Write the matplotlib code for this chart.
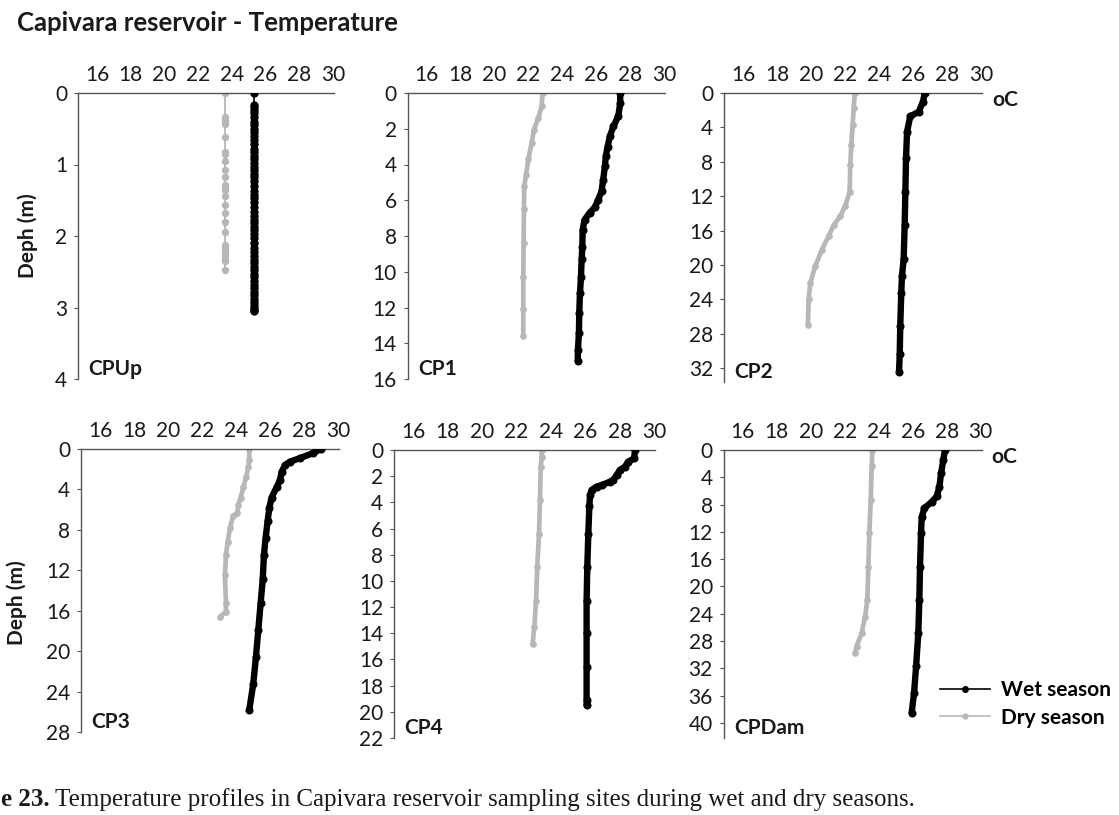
import matplotlib
matplotlib.use("Agg")
import matplotlib.pyplot as plt
from matplotlib.lines import Line2D

W, H = 1119, 815
INK = "#1a1a1a"
AXC = "#555555"
WET = "#000000"
DRY = "#b5b8b8"
FONT = ["Lato", "DejaVu Sans"]
plt.rcParams["font.family"] = FONT

TITLE = "Capivara reservoir - Temperature"
X_TICKS = [16, 18, 20, 22, 24, 26, 28, 30]

# ---- CPUp ----
CPUP_WET_D = [0, 0.17, 0.2, 0.24, 0.28, 0.33, 0.4, 0.45, 0.5, 0.55, 0.6, 0.66, 0.72, 0.78, 0.83,
              0.88, 0.93, 0.98, 1.03, 1.08, 1.13, 1.18, 1.23, 1.3, 1.37, 1.42, 1.47, 1.53, 1.6, 1.67,
              1.72, 1.77, 1.82, 1.87, 1.92, 1.97, 2.03, 2.1, 2.17, 2.23, 2.28, 2.33, 2.38, 2.43, 2.48,
              2.53, 2.58, 2.63, 2.68, 2.73, 2.78, 2.83, 2.88, 2.93, 2.97, 3.0, 3.03, 3.05]
CPUP_WET_T = [25.3, 25.3, 25.3, 25.3, 25.3, 25.3, 25.3, 25.3, 25.3, 25.3, 25.3, 25.3, 25.3, 25.3, 25.3,
              25.3, 25.3, 25.3, 25.3, 25.3, 25.3, 25.3, 25.3, 25.3, 25.3, 25.3, 25.3, 25.3, 25.3, 25.3,
              25.3, 25.3, 25.3, 25.3, 25.3, 25.3, 25.3, 25.3, 25.3, 25.3, 25.3, 25.3, 25.3, 25.3, 25.3,
              25.3, 25.3, 25.3, 25.3, 25.3, 25.3, 25.3, 25.3, 25.3, 25.3, 25.3, 25.3, 25.3]
CPUP_DRY_D = [0, 0.33, 0.37, 0.41, 0.44, 0.61, 0.83, 0.86, 0.95, 1.07, 1.18, 1.29, 1.32, 1.35, 1.44,
              1.57, 1.68, 1.8, 1.95, 2.13, 2.17, 2.21, 2.25, 2.29, 2.33, 2.35, 2.47]
CPUP_DRY_T = [23.6, 23.6, 23.6, 23.6, 23.6, 23.6, 23.6, 23.6, 23.6, 23.6, 23.6, 23.6, 23.6, 23.6, 23.6,
              23.6, 23.6, 23.6, 23.6, 23.6, 23.6, 23.6, 23.6, 23.6, 23.6, 23.6, 23.6]

# ---- CP1 ----
CP1_WET_D = [0, 0.56, 1.3, 1.87, 2.4, 3.0, 3.5, 4.1, 4.85, 5.5, 6.0, 6.4, 6.7, 7.1, 7.65, 8.6, 9.3,
             10.3, 11.2, 12.3, 13.4, 14.4, 15.0]
CP1_WET_T = [27.4, 27.4, 27.29, 27.0, 26.8, 26.66, 26.56, 26.5, 26.4, 26.3, 26.1, 25.9, 25.6, 25.3,
             25.19, 25.17, 25.13, 25.09, 25.03, 24.99, 24.97, 24.91, 24.9]
CP1_DRY_D = [0, 0.75, 1.4, 2.05, 2.8, 3.7, 4.6, 5.2, 6.5, 8.4, 10.3, 12.1, 13.6]
CP1_DRY_T = [22.83, 22.77, 22.58, 22.32, 22.18, 21.99, 21.85, 21.75, 21.73, 21.71, 21.69, 21.69, 21.69]

# ---- CP2 ----
CP2_WET_D = [0, 1.0, 2.2, 2.7, 4.5, 7.6, 11.5, 15.4, 19.3, 21.3, 23.2, 27.1, 30.3, 32.4]
CP2_WET_T = [26.69, 26.59, 26.33, 25.84, 25.65, 25.59, 25.55, 25.51, 25.45, 25.35, 25.31, 25.25,
             25.22, 25.18]
CP2_DRY_D = [0, 1.76, 3.7, 6.05, 8.4, 11.5, 13.1, 14.3, 15.4, 16.6, 18.2, 20.1, 22.1, 24.0, 26.95]
CP2_DRY_T = [22.57, 22.51, 22.45, 22.37, 22.31, 22.27, 22.02, 21.73, 21.33, 21.04, 20.65, 20.25,
             19.96, 19.86, 19.82]

# ---- CP3 ----
CP3_WET_D = [0, 0.4, 0.9, 1.25, 1.6, 2.25, 3.1, 3.77, 4.8, 5.8, 7.1, 8.8, 10.5, 12.9, 15.2, 17.9,
             20.6, 23.3, 25.8]
CP3_WET_T = [28.98, 28.53, 27.75, 27.16, 26.87, 26.67, 26.57, 26.38, 26.08, 25.95, 25.85, 25.73,
             25.63, 25.56, 25.44, 25.3, 25.16, 25.0, 24.77]
CP3_DRY_D = [0, 1.1, 1.75, 2.8, 3.8, 4.8, 5.5, 6.3, 6.6, 7.8, 9.2, 10.5, 12.5, 15.2, 16.1, 16.6]
CP3_DRY_T = [24.77, 24.77, 24.72, 24.58, 24.42, 24.26, 24.13, 24.07, 23.83, 23.64, 23.5, 23.4,
             23.34, 23.4, 23.4, 23.05]

# ---- CP4 ----
CP4_WET_D = [0, 0.64, 0.9, 1.27, 1.53, 1.9, 2.3, 2.42, 2.68, 2.8, 3.06, 3.44, 4.3, 6.4, 8.9, 11.5,
             14.0, 16.6, 19.1, 19.5]
CP4_WET_T = [28.9, 28.84, 28.5, 28.31, 28.02, 27.83, 27.63, 27.44, 26.96, 26.66, 26.37, 26.28,
             26.24, 26.18, 26.12, 26.08, 26.08, 26.08, 26.08, 26.08]
CP4_DRY_D = [0, 0.5, 1.27, 3.8, 6.4, 8.9, 11.5, 13.5, 14.8]
CP4_DRY_T = [23.47, 23.47, 23.41, 23.37, 23.31, 23.21, 23.14, 23.04, 22.94]

# ---- CPDam ----
CPDAM_WET_D = [0, 1.46, 3.4, 5.4, 6.8, 7.6, 8.5, 9.8, 12.2, 17.1, 22.0, 26.8, 31.7, 35.6, 38.5]
CPDAM_WET_T = [27.9, 27.8, 27.67, 27.57, 27.41, 27.12, 26.69, 26.53, 26.49, 26.43, 26.39, 26.33,
               26.2, 26.08, 25.94]
CPDAM_DRY_D = [0, 2.4, 7.3, 12.2, 17.1, 22.0, 24.4, 26.8, 28.8, 29.8]
CPDAM_DRY_T = [23.63, 23.59, 23.53, 23.45, 23.39, 23.33, 23.2, 23.0, 22.7, 22.6]

SITES = ["CPUp", "CP1", "CP2", "CP3", "CP4", "CPDam"]
Y_MAX = [4, 16, 33.6, 28, 22, 42.2]
Y_STEP = [1, 2, 4, 4, 2, 4]
Y_LAST = [4, 16, 32, 28, 22, 40]
WET_D = [CPUP_WET_D, CP1_WET_D, CP2_WET_D, CP3_WET_D, CP4_WET_D, CPDAM_WET_D]
WET_T = [CPUP_WET_T, CP1_WET_T, CP2_WET_T, CP3_WET_T, CP4_WET_T, CPDAM_WET_T]
DRY_D = [CPUP_DRY_D, CP1_DRY_D, CP2_DRY_D, CP3_DRY_D, CP4_DRY_D, CPDAM_DRY_D]
DRY_T = [CPUP_DRY_T, CP1_DRY_T, CP2_DRY_T, CP3_DRY_T, CP4_DRY_T, CPDAM_DRY_T]

# pixel layout: x of 16 degC, x of 30 degC, top y, bottom y
BOXES = [(97, 333, 93, 379), (426.7, 664.3, 93, 379), (743, 981, 93, 382),
         (100, 338.3, 449, 732), (413.3, 654, 450, 738), (742.7, 980.7, 450, 738)]
XLO, XHI = 14.9, 30.05
FS = 15

fig = plt.figure(figsize=(W / 100, H / 100), dpi=100)
fig.patch.set_facecolor("white")

axes = []
for i, site in enumerate(SITES):
    x16, x30, top, bot = BOXES[i]
    s = (x30 - x16) / 14.0
    left = x16 - (16 - XLO) * s
    right = x30 + (XHI - 30) * s
    ax = fig.add_axes([left / W, 1 - bot / H, (right - left) / W, (bot - top) / H])
    axes.append(ax)
    if i == 0:
        ax.plot(DRY_T[i], DRY_D[i], color=DRY, lw=1.3, marker="o", ms=4.3, mec=DRY, zorder=2)
        ax.plot(WET_T[i], WET_D[i], color=WET, lw=1.2, marker="o", ms=5.0, mec=WET, zorder=3)
    else:
        ax.plot(DRY_T[i], DRY_D[i], color=DRY, lw=3.4, marker="o", ms=3.8, mec=DRY,
                solid_capstyle="round", solid_joinstyle="round", zorder=2)
        ax.plot(WET_T[i], WET_D[i], color=WET, lw=4.6, marker="o", ms=4.8, mec=WET,
                solid_capstyle="round", solid_joinstyle="round", zorder=3)
    ax.set_xlim(XLO, XHI)
    ax.set_ylim(Y_MAX[i], 0)
    ax.set_xticks(X_TICKS)
    ax.set_yticks(list(range(0, Y_LAST[i] + 1, Y_STEP[i])))
    ax.xaxis.tick_top()
    for sp in ("bottom", "right"):
        ax.spines[sp].set_visible(False)
    for sp in ("top", "left"):
        ax.spines[sp].set_color(AXC)
        ax.spines[sp].set_linewidth(1.0)
    ax.tick_params(axis="x", length=0, pad=6, labelsize=FS, labelcolor=INK)
    ax.tick_params(axis="y", length=3, width=0.8, color=AXC, pad=5, labelsize=FS, labelcolor=INK)
    ax.set_facecolor("none")
    ax.annotate(site, xy=(0, 0), xycoords="axes fraction", xytext=(10, 10),
                textcoords="offset pixels", ha="left", va="center", fontsize=FS,
                fontweight="bold", color=INK)

for i in (2, 5):
    axes[i].annotate("oC", xy=(1, 1), xycoords="axes fraction", xytext=(10, -7),
                     textcoords="offset pixels", ha="left", va="center", fontsize=FS,
                     fontweight="bold", color=INK)

fig.text(17 / W, 1 - 23 / H, TITLE, ha="left", va="center", fontsize=18.5,
         fontweight="bold", color=INK)
fig.text(28 / W, 1 - 236 / H, "Deph (m)", rotation=90, ha="center", va="center",
         fontsize=FS, fontweight="bold", color=INK)
fig.text(17 / W, 1 - 603 / H, "Deph (m)", rotation=90, ha="center", va="center",
         fontsize=FS, fontweight="bold", color=INK)

handles = [Line2D([], [], color=WET, lw=1.2, marker="o", ms=4),
           Line2D([], [], color=DRY, lw=1.2, marker="o", ms=3.5)]
fig.legend(handles, ["Wet season", "Dry season"], loc="center left",
           bbox_to_anchor=(930 / W, 1 - 704 / H), frameon=False, handlelength=2.4,
           handletextpad=0.5, labelspacing=0.35, borderpad=0,
           prop={"family": FONT, "weight": "bold", "size": 15})

cap1 = fig.text(1 / W, 1 - 800 / H, "e 23.", ha="left", va="center", fontsize=18,
                fontweight="bold", family="Liberation Serif", color=INK)
fig.canvas.draw()
bb = cap1.get_window_extent(renderer=fig.canvas.get_renderer())
fig.text((bb.x1 + 5) / W, 1 - 800 / H,
         "Temperature profiles in Capivara reservoir sampling sites during wet and dry seasons.",
         ha="left", va="center", fontsize=18, family="Liberation Serif", color=INK)

fig.savefig("out.png", dpi=100, facecolor="white")
